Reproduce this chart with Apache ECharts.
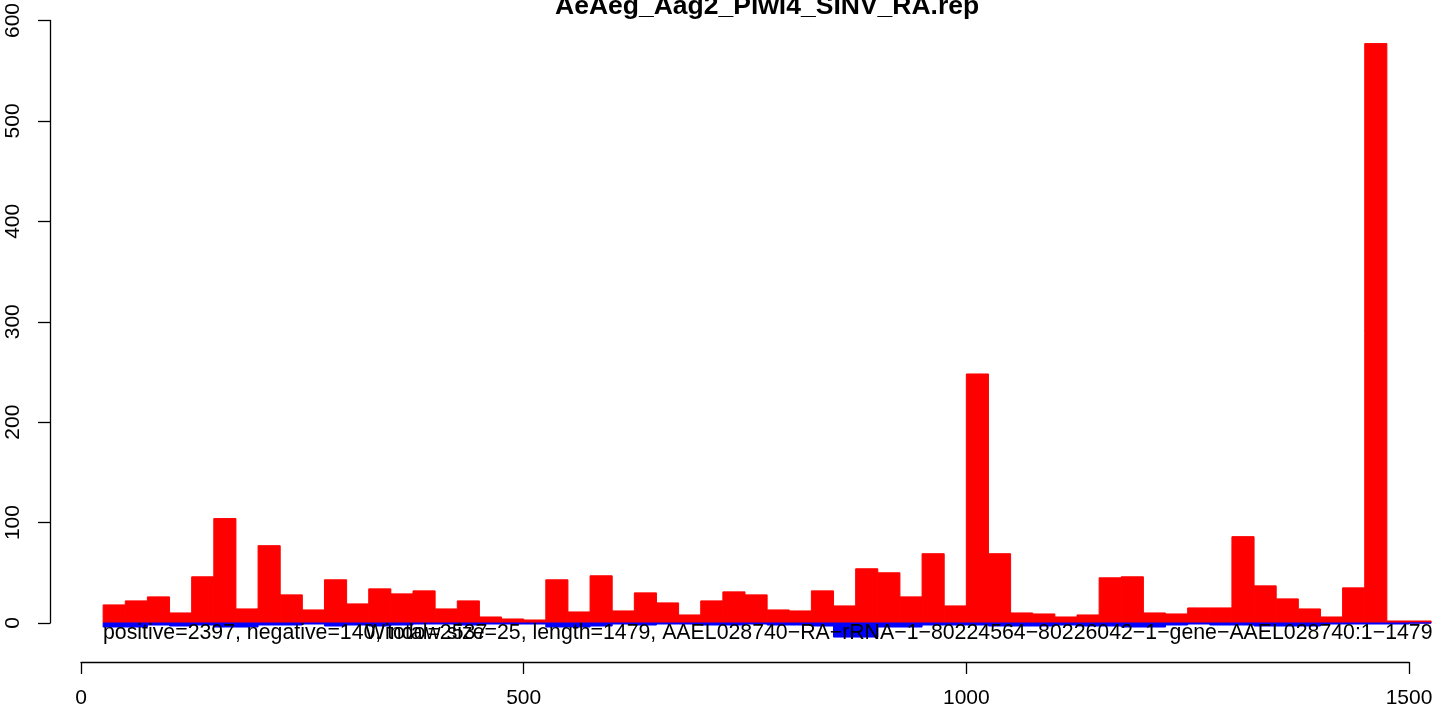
<!DOCTYPE html>
<html>
<head>
<meta charset="utf-8">
<script src="https://cdn.jsdelivr.net/npm/echarts@6/dist/echarts.min.js"></script>
<style>html,body{margin:0;padding:0;background:#fff}#c{width:1444px;height:713px}</style>
</head>
<body>
<div id="c"></div>
<script>
const chartTitle = 'AeAeg_Aag2_Piwi4_SINV_RA.rep';
const windowSize = 25;
const binStarts = [25,50,75,100,125,150,175,200,225,250,275,300,325,350,375,400,425,450,475,500,
  525,550,575,600,625,650,675,700,725,750,775,800,825,850,875,900,925,950,975,1000,
  1025,1050,1075,1100,1125,1150,1175,1200,1225,1250,1275,1300,1325,1350,1375,1400,1425,1450,1475,1500];
const positiveCounts = [18,22,26,10,46,104,14,77,28,13, 43,19,34,29,32,14,22,6,4,3,
  43,11,47,12,30,20,8,22,31,28, 13,12,32,17,54,50,26,69,17,248,
  69,10,9,6,8,45,46,10,9,15, 15,86,37,24,14,6,35,577,2,2];
const negativeCounts = [4,4,2,3,2,4,4,2,2,1, 3,2,3,2,1,1,2,1,1,1,
  4,4,3,1,2,1,1,2,2,1, 2,2,3,14,14,4,4,2,2,2,
  3,3,3,2,3,3,4,4,2,1, 2,2,3,3,3,1,1,1,1,0];
const xTicks = [0, 500, 1000, 1500];
const yTicks = [0, 100, 200, 300, 400, 500, 600];
const summaryText = 'positive=2397, negative=140, total=2537';
const infoText = 'Window size=25, length=1479, AAEL028740\u2212RA\u2212rRNA\u22121\u221280224564\u221280226042\u22121\u2212gene\u2212AAEL028740:1\u22121479';

const FONT = '"Liberation Sans", Arial, Helvetica, sans-serif';

function rectRenderer(color) {
  return function (params, api) {
    const x0 = api.value(0), v = api.value(1);
    const p0 = api.coord([x0, 0]);
    const p1 = api.coord([x0 + windowSize, v]);
    return {
      type: 'rect',
      shape: { x: p0[0], y: Math.min(p0[1], p1[1]), width: p1[0] - p0[0], height: Math.abs(p1[1] - p0[1]) },
      style: { fill: color, stroke: color, lineWidth: 1 }
    };
  };
}

const chart = echarts.init(document.getElementById('c'), null, { renderer: 'canvas' });
chart.setOption({
  animation: false,
  backgroundColor: '#ffffff',
  textStyle: { fontFamily: FONT },
  grid: [
    { left: 81, top: 18, height: 605, width: 1350.13 },
    { left: 81, top: 18, height: 605, width: 1328 }
  ],
  xAxis: [
    { type: 'value', gridIndex: 0, min: 0, max: 1525, show: false, splitLine: { show: false } },
    { type: 'value', gridIndex: 1, min: xTicks[0], max: xTicks[xTicks.length - 1], interval: 500,
      offset: 39,
      axisLine: { show: true, onZero: false, lineStyle: { color: '#000', width: 1.3 } },
      axisTick: { show: true, length: 12, lineStyle: { color: '#000', width: 1.3 } },
      axisLabel: { show: true, color: '#000', fontSize: 21, margin: 26, fontFamily: FONT,
        formatter: v => String(v) },
      splitLine: { show: false } }
  ],
  yAxis: [
    { type: 'value', gridIndex: 0, min: yTicks[0], max: yTicks[yTicks.length - 1], interval: 100,
      offset: 31,
      axisLine: { show: true, onZero: false, lineStyle: { color: '#000', width: 1.3 } },
      axisTick: { show: true, length: 12, lineStyle: { color: '#000', width: 1.3 } },
      axisLabel: { show: true, color: '#000', fontSize: 21, rotate: 90, margin: 26, fontFamily: FONT,
        formatter: v => String(v) },
      splitLine: { show: false } },
    { type: 'value', gridIndex: 1, min: 0, max: 600, show: false, splitLine: { show: false } }
  ],
  series: [
    { type: 'custom', xAxisIndex: 0, yAxisIndex: 0, clip: false,
      renderItem: rectRenderer('#FF0000'),
      data: binStarts.map((s, i) => [s, positiveCounts[i]]) },
    { type: 'custom', xAxisIndex: 0, yAxisIndex: 0, clip: false,
      renderItem: rectRenderer('#0000FF'),
      data: binStarts.map((s, i) => [s, -negativeCounts[i]]) }
  ],
  graphic: [
    { type: 'text', left: 555, top: -7, z: 10,
      style: { text: chartTitle, font: 'bold 26.5px ' + FONT, fill: '#000' } },
    { type: 'text', x: 103, y: 633, z: 10,
      style: { text: summaryText, font: '21.3px ' + FONT, fill: '#000', textVerticalAlign: 'middle', verticalAlign: 'middle' } },
    { type: 'text', x: 365, y: 633, z: 10,
      style: { text: infoText, font: '21.3px ' + FONT, fill: '#000', textVerticalAlign: 'middle', verticalAlign: 'middle' } }
  ]
});
</script>
</body>
</html>
